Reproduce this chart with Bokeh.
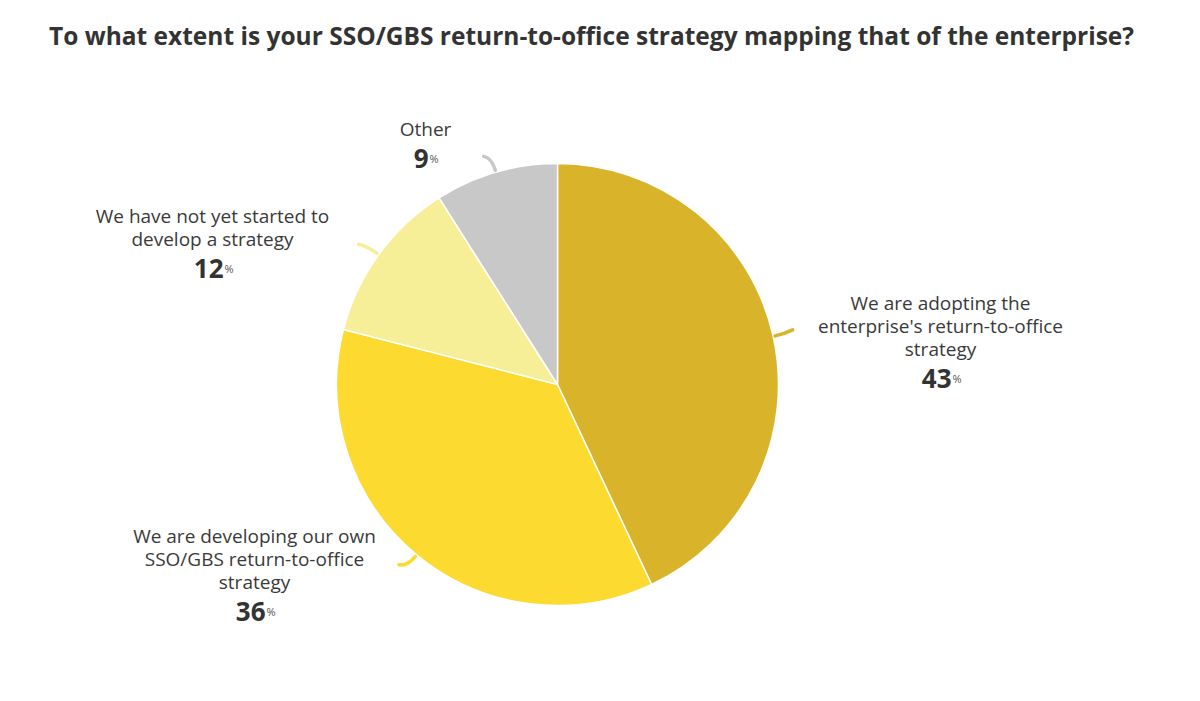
import math
from bokeh.plotting import figure
from bokeh.models import Range1d
from bokeh.embed import file_html
from bokeh.resources import INLINE
from bokeh.core.properties import value

# ---- data ----
TITLE = "To what extent is your SSO/GBS return-to-office strategy mapping that of the enterprise?"
categories = [
    "We are adopting the\nenterprise's return-to-office\nstrategy",
    "We are developing our own\nSSO/GBS return-to-office\nstrategy",
    "We have not yet started to\ndevelop a strategy",
    "Other",
]
shares = [43, 36, 12, 9]

# ---- styles / layout ----
colors = ["#D9B32A", "#FDDA2F", "#F7EE98", "#C8C8C8"]
W, H = 1184, 685
FONT = "Open Sans"
# label block centres (screen px) and hook direction of the connector
label_center = [(940, 302), (254, 535), (212, 215), (425, 128)]
hook_dir = [1, -1, -1, -1]

def dx(sx):
    return sx

def dy(sy):
    return H - sy

p = figure(width=W, height=H, output_backend="svg", toolbar_location=None,
           x_range=Range1d(0, W), y_range=Range1d(0, H), min_border=0)
p.axis.visible = False
p.grid.visible = False
p.outline_line_color = None
p.background_fill_color = "white"
p.border_fill_color = "white"

cx, cy, r = dx(557), dy(384), 221

total = float(sum(shares))
starts, ends, mids = [], [], []
cum = 0.0
for s in shares:
    a0 = math.pi / 2 - 2 * math.pi * cum / total
    cum += s
    a1 = math.pi / 2 - 2 * math.pi * cum / total
    starts.append(a0)
    ends.append(a1)
    mids.append((a0 + a1) / 2)

p.wedge(x=[cx] * len(shares), y=[cy] * len(shares), radius=r,
        start_angle=starts, end_angle=ends, direction="clock",
        fill_color=colors, line_color="white", line_width=1.5)

# connectors
for i, a in enumerate(mids):
    ux, uy = math.cos(a), math.sin(a)
    x0, y0 = cx + (r + 2) * ux, cy + (r + 2) * uy
    c1x, c1y = cx + (r + 15) * ux, cy + (r + 15) * uy
    x1, y1 = c1x + 8 * hook_dir[i], c1y + 1.5
    if i == 0:
        x1, y1 = cx + (r + 20) * ux, cy + (r + 20) * uy + 2
        c1x, c1y = cx + (r + 12) * ux, cy + (r + 12) * uy
    p.quadratic(x0=[x0], y0=[y0], x1=[x1], y1=[y1], cx=[c1x], cy=[c1y],
                line_color=colors[i], line_width=3.5, line_cap="round")

# labels
for i, cat in enumerate(categories):
    lx, ly = label_center[i]
    lines = cat.split("\n")
    for j, ln in enumerate(lines):
        p.text(x=[dx(lx)], y=[dy(ly + 23 * j)], text=[ln],
               text_align="center", text_baseline="middle",
               text_font=value(FONT), text_font_size="19px",
               text_color="#3a3a3a")
    pct_base = ly + 23 * (len(lines) - 1) + 30
    num = str(shares[i])
    split = lx + (len(num) * 16 - 10) / 2
    p.text(x=[dx(split)], y=[dy(pct_base)], text=[num],
           text_align="right", text_baseline="alphabetic",
           text_font=value(FONT), text_font_size="26px", text_font_style="bold",
           text_color="#333333")
    p.text(x=[dx(split) + 1], y=[dy(pct_base)], text=["%"],
           text_align="left", text_baseline="alphabetic",
           text_font=value(FONT), text_font_size="11px",
           text_color="#555555")

# title
p.text(x=[dx(591)], y=[dy(35)], text=[TITLE], text_align="center",
       text_baseline="middle", text_font=value(FONT), text_font_size="24.5px",
       text_font_style="bold", text_color="#333333")

open("out.html", "w").write(file_html(p, INLINE))
